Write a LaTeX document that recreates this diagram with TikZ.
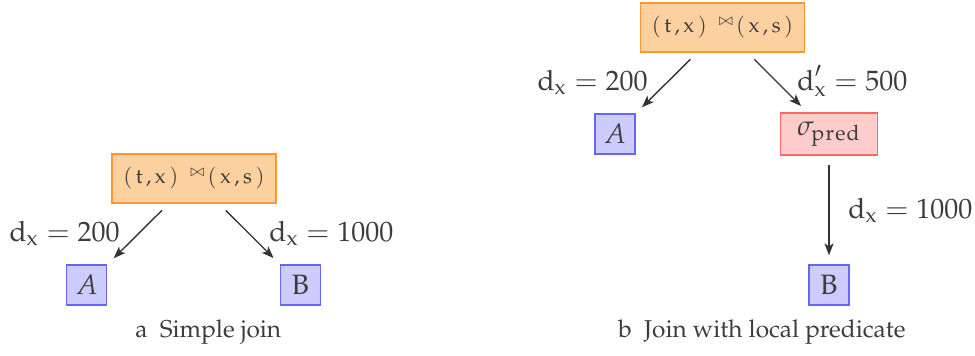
\documentclass[tikz,border=0pt]{standalone}
\usepackage[T1]{fontenc}
\usepackage{mathpazo}
\usepackage{amsmath}
\usetikzlibrary{arrows.meta}
\definecolor{joinfill}{RGB}{253,208,160}
\definecolor{joindraw}{RGB}{255,150,50}
\definecolor{relfill}{RGB}{204,204,255}
\definecolor{reldraw}{RGB}{102,102,255}
\definecolor{selfill}{RGB}{255,204,204}
\definecolor{seldraw}{RGB}{255,102,102}
\definecolor{arrcol}{RGB}{51,51,51}
\definecolor{txtcol}{RGB}{60,60,60}
\tikzset{
  joinbox/.style={draw=joindraw, fill=joinfill, line width=0.9pt, minimum width=82pt, minimum height=24.5pt, inner sep=0pt, text=txtcol, font=\fontsize{10.5}{12}\selectfont},
  relbox/.style={draw=reldraw, fill=relfill, line width=0.6pt, minimum width=20pt, minimum height=20pt, inner sep=0pt, text=txtcol, font=\fontsize{14}{16}\selectfont},
  selbox/.style={draw=seldraw, fill=selfill, line width=0.6pt, minimum width=48.5pt, minimum height=21pt, inner sep=0pt, text=txtcol, font=\fontsize{14}{16}\selectfont},
  arr/.style={draw=arrcol, line width=0.7pt, -{Stealth[length=6pt,width=4.5pt,inset=1.5pt]}, shorten <=4.5pt, shorten >=4.5pt},
  lab/.style={inner sep=0pt, text=txtcol, font=\fontsize{14}{16}\selectfont},
  captxt/.style={inner sep=0pt, text=txtcol, font=\fontsize{12.2}{14}\selectfont},
}
\newcommand{\tx}[1]{\text{#1}}
\newcommand{\joinlbl}{$(\,\tx{t}\,,\tx{x}\,)\hspace{6pt}{}^{\bowtie}\hspace{1pt}(\,\tx{x}\,,\tx{s}\,)$}
\newcommand{\dx}{\tx{d}_{\tx{x}}}
\begin{document}
\begin{tikzpicture}[x=0.5pt,y=-0.5pt]
\useasboundingbox (0,0) rectangle (975,355);
% (a)
\node[joinbox] (ja) at (194,178.5) {\joinlbl};
\node[relbox] (aa) at (86.7,285) {$A$};
\node[relbox] (ba) at (300.5,285) {B};
\draw[arr] (ja) -- (aa);
\draw[arr] (ja) -- (ba);
\node[lab, anchor=base east] (la1) at (120,241.7) {$\dx = 200$};
\node[lab, anchor=base west] (la2) at (269,241.7) {$\dx = 1000$};
\node[captxt, anchor=base west] (capa) at (135,337) {a\enspace Simple join};
% (b)
\node[joinbox] (jb) at (722.5,27.5) {\joinlbl};
\node[relbox] (ab) at (615,134) {$A$};
\node[selbox] (sb) at (829,134) {$\sigma_{\tx{p\kern0.6pt r\kern0.6pt e\kern0.6pt d}}$};
\node[relbox] (bb) at (829,285) {B};
\draw[arr] (jb) -- (ab);
\draw[arr] (jb) -- (sb);
\draw[arr] (sb) -- (bb);
\node[lab, anchor=base east] (lb1) at (648,90) {$\dx = 200$};
\node[lab, anchor=base west] (lb2) at (797,90) {$\tx{d}'_{\tx{x}} = 500$};
\node[lab, anchor=base west] (lb3) at (848,218) {$\dx = 1000$};
\node[captxt, anchor=base west] (capb) at (618,337) {b\enspace Join with local predicate};
\end{tikzpicture}
\end{document}
